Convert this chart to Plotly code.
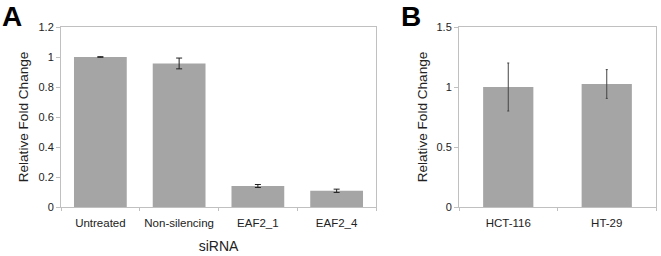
import plotly.graph_objects as go

# Panel A data
cats_a = ["Untreated", "Non-silencing", "EAF2_1", "EAF2_4"]
vals_a = [1.0, 0.957, 0.14, 0.108]
errs_a = [0.002, 0.036, 0.01, 0.011]
yticks_a = [0, 0.2, 0.4, 0.6, 0.8, 1.0, 1.2]
yticklabels_a = ["0", "0.2", "0.4", "0.6", "0.8", "1", "1.2"]

# Panel B data
cats_b = ["HCT-116", "HT-29"]
vals_b = [1.0, 1.025]
errs_b = [0.2, 0.12]
yticks_b = [0, 0.5, 1.0, 1.5]
yticklabels_b = ["0", "0.5", "1", "1.5"]

W, H = 661, 256
bar_color = "#a5a5a5"
frame = "#c0c0c0"
font_fam = "Liberation Sans, Arial, sans-serif"

fig = go.Figure()
fig.add_trace(go.Bar(x=cats_a, y=vals_a, marker=dict(color=bar_color, line=dict(width=0)),
                     error_y=dict(type="data", array=errs_a, color="#222", thickness=1, width=3),
                     xaxis="x", yaxis="y", showlegend=False))
fig.add_trace(go.Bar(x=cats_b, y=vals_b, marker=dict(color=bar_color, line=dict(width=0)),
                     error_y=dict(type="data", array=errs_b, color="#444", thickness=1, width=1),
                     xaxis="x2", yaxis="y2", showlegend=False, width=0.51))

ytop = 1 - 27 / H
ybot = 1 - 207 / H

common_x = dict(showline=True, linecolor=frame, mirror=True, ticks="outside", tickson="boundaries",
                ticklen=3, tickcolor=frame, tickfont=dict(size=11.5, color="#222", family=font_fam),
                ticklabelstandoff=5, showgrid=False, zeroline=False, automargin=False)
common_y = dict(showline=True, linecolor=frame, mirror=True, ticks="outside", ticklen=4,
                tickcolor=frame, tickfont=dict(size=11, color="#222", family=font_fam),
                showgrid=False, zeroline=False, automargin=False)

fig.update_layout(
    width=W, height=H,
    margin=dict(l=0, r=0, t=0, b=0, autoexpand=False),
    paper_bgcolor="white", plot_bgcolor="white",
    bargap=0.33,
    font=dict(family=font_fam, color="#222"),
    xaxis=dict(domain=[61 / W, 376 / W], anchor="y",
               title=dict(text="siRNA", font=dict(size=14, color="#222"), standoff=13),
               **common_x),
    yaxis=dict(domain=[ybot, ytop], anchor="x", range=[0, 1.2],
               tickvals=yticks_a, ticktext=yticklabels_a,
               title=dict(text="Relative Fold Change", font=dict(size=13.6, color="#222"), standoff=6),
               **common_y),
    xaxis2=dict(domain=[459 / W, 656 / W], anchor="y2", **common_x),
    yaxis2=dict(domain=[ybot, ytop], anchor="x2", range=[0, 1.5],
                tickvals=yticks_b, ticktext=yticklabels_b,
                title=dict(text="Relative Fold Change", font=dict(size=13.6, color="#222"), standoff=5),
                **common_y),
    annotations=[
        dict(text="<b>A</b>", x=0, y=1, xref="paper", yref="paper", xanchor="left", yanchor="top",
             xshift=0, yshift=1, showarrow=False, font=dict(size=28, color="black", family=font_fam)),
        dict(text="<b>B</b>", x=399 / W, y=1, xref="paper", yref="paper", xanchor="left", yanchor="top",
             xshift=0, yshift=1, showarrow=False, font=dict(size=28, color="black", family=font_fam)),
    ],
)

fig.write_html("out.html", config={"displayModeBar": False},
               post_script="document.body.style.margin='0';")
